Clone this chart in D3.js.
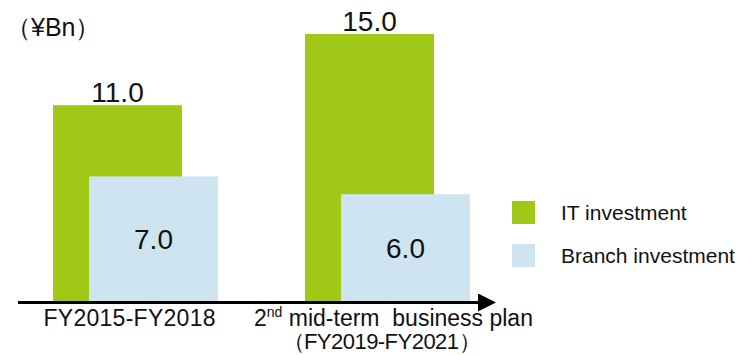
<!DOCTYPE html>
<html>
<head>
<meta charset="utf-8">
<script src="https://cdn.jsdelivr.net/npm/d3@7"></script>
<style>
  html, body { margin: 0; padding: 0; background: #fff; }
  svg { display: block; font-family: "Liberation Sans", Arial, sans-serif; }
</style>
</head>
<body>
<div id="chart"></div>
<script>
// Chart data
const categories = ['FY2015-FY2018', '2nd mid-term plan'];
const seriesNames = ['IT investment', 'Branch investment'];
const itValues = [11.0, 15.0];
const branchValues = [7.0, 6.0];
const unitLabel = '（¥Bn）';

const colors = { 'IT investment': '#9FC817', 'Branch investment': '#CFE4F1' };

function drawChart() {
    const width = 742, height = 355;
    const baseY = 301;

    const svg = d3.select('#chart')
        .append('svg')
        .attr('width', width)
        .attr('height', height);

    const x = d3.scaleBand()
        .domain(categories)
        .range([53, 557])
        .paddingInner(0)
        .paddingOuter(0);

    // offset of each series inside a group
    const offset = d3.scaleOrdinal()
        .domain(seriesNames)
        .range([0, 36]);

    const barWidth = 129;

    const y = d3.scaleLinear()
        .domain([0, 15])
        .range([baseY, baseY - 267]);

    const rows = categories.map((c, i) => ({
        category: c,
        values: [
            { series: seriesNames[0], value: itValues[i] },
            { series: seriesNames[1], value: branchValues[i] }
        ]
    }));

    const groups = svg.selectAll('g.group')
        .data(rows)
        .enter()
        .append('g')
        .attr('class', 'group')
        .attr('transform', d => `translate(${x(d.category)},0)`);

    groups.selectAll('rect')
        .data(d => d.values)
        .enter()
        .append('rect')
        .attr('x', d => offset(d.series))
        .attr('y', d => y(d.value))
        .attr('width', barWidth)
        .attr('height', d => y(0) - y(d.value))
        .attr('fill', d => colors[d.series]);

    // IT labels above bars
    groups.append('text')
        .attr('x', d => offset(seriesNames[0]) + barWidth / 2)
        .attr('y', d => y(d.values[0].value) - 3)
        .attr('text-anchor', 'middle')
        .attr('font-size', 28)
        .attr('fill', '#111')
        .text(d => d.values[0].value.toFixed(1));

    // Branch labels inside bars
    groups.append('text')
        .attr('x', d => offset(seriesNames[1]) + barWidth / 2)
        .attr('y', d => (y(d.values[1].value) + baseY) / 2 + 10)
        .attr('text-anchor', 'middle')
        .attr('font-size', 28)
        .attr('fill', '#111')
        .text(d => d.values[1].value.toFixed(1));

    // Axis with arrow
    const defs = svg.append('defs');
    defs.append('marker')
        .attr('id', 'arrow')
        .attr('viewBox', '0 0 10 10')
        .attr('refX', 0)
        .attr('refY', 5)
        .attr('markerWidth', 6)
        .attr('markerHeight', 6)
        .attr('markerUnits', 'strokeWidth')
        .attr('orient', 'auto')
        .append('path')
        .attr('d', 'M0,0L10,5L0,10Z')
        .attr('fill', '#000');

    svg.append('line')
        .attr('x1', 18)
        .attr('x2', 478)
        .attr('y1', baseY + 1.5)
        .attr('y2', baseY + 1.5)
        .attr('stroke', '#000')
        .attr('stroke-width', 3)
        .attr('marker-end', 'url(#arrow)');

    // Category labels
    const cx = d => x(d) + (offset(seriesNames[1]) + barWidth) / 2;
    svg.append('text')
        .attr('x', cx(categories[0]) - 6)
        .attr('y', baseY + 25)
        .attr('text-anchor', 'middle')
        .attr('font-size', 23)
        .attr('textLength', 172)
        .attr('fill', '#111')
        .text(categories[0]);

    const lbl2 = svg.append('text')
        .attr('x', cx(categories[1]) + 6)
        .attr('y', baseY + 25)
        .attr('text-anchor', 'middle')
        .attr('font-size', 23)
        .attr('fill', '#111')
        .attr('xml:space', 'preserve');
    lbl2.append('tspan').text('2');
    lbl2.append('tspan').attr('font-size', 14).attr('dy', -9).text('nd');
    lbl2.append('tspan').attr('dy', 9).text(' mid-term  business plan');

    svg.append('text')
        .attr('x', cx(categories[1]) - 6)
        .attr('y', baseY + 48)
        .attr('text-anchor', 'middle')
        .attr('font-size', 22)
        .attr('textLength', 198)
        .attr('fill', '#111')
        .text('（FY2019-FY2021）');

    // Unit label
    svg.append('text')
        .attr('x', 6)
        .attr('y', 36)
        .attr('font-size', 25)
        .attr('fill', '#111')
        .text(unitLabel);

    // Legend
    const legend = svg.selectAll('g.legend')
        .data(seriesNames)
        .enter()
        .append('g')
        .attr('class', 'legend')
        .attr('transform', (d, i) => `translate(512,${201 + i * 43})`);

    legend.append('rect')
        .attr('width', 23)
        .attr('height', 23)
        .attr('fill', d => colors[d]);

    legend.append('text')
        .attr('x', 49)
        .attr('y', 19)
        .attr('font-size', 21)
        .attr('fill', '#111')
        .text(d => d);
}

document.addEventListener('DOMContentLoaded', drawChart);
</script>
</body>
</html>
